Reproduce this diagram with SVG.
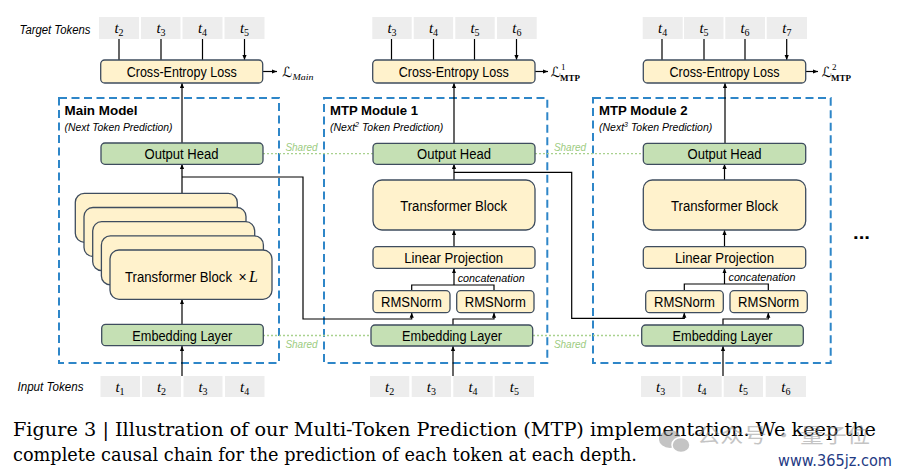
<svg xmlns="http://www.w3.org/2000/svg" width="900" height="476" viewBox="0 0 900 476">
<defs>
<marker id="ah" viewBox="0 0 6 6" refX="6" refY="3" markerWidth="5" markerHeight="5" markerUnits="userSpaceOnUse" orient="auto"><path d="M0,0.5 L6,3 L0,5.5 z" fill="#000"/></marker>
</defs>
<style>
.tok{fill:#EDEDED}
.y{fill:#FFF2CC;stroke:#3E4C5E;stroke-width:1.3}
.g{fill:#C5E0B4;stroke:#3E4C5E;stroke-width:1.3}
.frame{fill:none;stroke:#2E86C8;stroke-width:2;stroke-dasharray:8 4.5}
.c{fill:none;stroke:#000;stroke-width:1.2}
.a{marker-end:url(#ah)}
.sh{fill:none;stroke:#A9D18E;stroke-width:1.3;stroke-dasharray:2 2}
.lbl{font-family:"Liberation Sans",Arial,sans-serif;font-size:14px;fill:#000;text-anchor:middle}
.ttl{font-family:"Liberation Sans",Arial,sans-serif;font-size:13.5px;font-weight:bold;fill:#000}
.sub{font-family:"Liberation Sans",Arial,sans-serif;font-size:10.5px;font-style:italic;fill:#000}
.it{font-family:"Liberation Sans",Arial,sans-serif;font-size:12px;font-style:italic;fill:#000}
.shr{font-family:"Liberation Sans",Arial,sans-serif;font-size:10px;font-style:italic;fill:#9CCB80;text-anchor:middle}
.tk{font-family:"Liberation Serif","DejaVu Serif",serif;font-size:15px;fill:#000;text-anchor:middle}
.tk tspan.t{font-style:italic}
.tk tspan.n{font-size:10px}
.L{font-family:"DejaVu Serif","DejaVu Sans",serif;font-size:14px;font-style:italic;fill:#000}
.ls{font-family:"Liberation Serif","DejaVu Serif",serif;font-size:9px;fill:#000}
.cap{font-family:"DejaVu Serif","Liberation Serif",serif;font-size:18.5px;fill:#000}
</style>
<rect width="900" height="476" fill="#fff"/>

<!-- frames -->
<g id="main-model">
<rect class="frame" x="59" y="98" width="220" height="265"/>
<text class="ttl" x="64.5" y="115" textLength="73" lengthAdjust="spacingAndGlyphs">Main Model</text>
<text class="sub" x="64.5" y="130.5" textLength="108" lengthAdjust="spacingAndGlyphs">(Next Token Prediction)</text>
</g>
<g id="mtp-module-1">
<rect class="frame" x="324" y="98" width="223.3" height="265"/>
<text class="ttl" x="330" y="115" textLength="88" lengthAdjust="spacingAndGlyphs">MTP Module 1</text>
<text class="sub" x="330" y="130.5">(Next<tspan font-size="7" dy="-4">2</tspan><tspan dy="4"> Token Prediction)</tspan></text>
</g>
<g id="mtp-module-2">
<rect class="frame" x="593" y="98" width="237.7" height="265"/>
<text class="ttl" x="599" y="115" textLength="88.5" lengthAdjust="spacingAndGlyphs">MTP Module 2</text>
<text class="sub" x="599" y="130.5">(Next<tspan font-size="7" dy="-4">3</tspan><tspan dy="4"> Token Prediction)</tspan></text>
</g>

<!-- shared lines -->
<g id="shared">
<path class="sh" d="M263,153.7 H373 M535,153.7 H643 M263,335.5 H371 M533,335.5 H642"/>
<text class="shr" x="301.5" y="150.5">Shared</text>
<text class="shr" x="570" y="150.5">Shared</text>
<text class="shr" x="301.5" y="347.5">Shared</text>
<text class="shr" x="570" y="347.5">Shared</text>
</g>

<!-- connectors -->
<g id="connectors">
<path class="c a" d="M119,39 V60 M161,39 V60 M202.5,39 V60 M244.5,39 V60"/>
<path class="c a" d="M263,71.5 H277"/>
<path class="c a" d="M182,143 V83"/>
<path class="c a" d="M182,193.3 V164"/>
<path class="c a" d="M182,324 V299.3"/>
<path class="c a" d="M182,376 V346"/>
<path class="c a" d="M182,177 H303 V319 H411.7 V312.7"/>

<path class="c a" d="M391.5,39 V60 M433.5,39 V60 M474.5,39 V60 M516.5,39 V60"/>
<path class="c a" d="M535,71.5 H548"/>
<path class="c a" d="M454,143 V83"/>
<path class="c a" d="M454,180 V164"/>
<path class="c a" d="M454,246.7 V230"/>
<path class="c" d="M411.7,290.7 V285 H494 V290.7"/>
<path class="c a" d="M454,285 V268.3"/>
<path class="c a" d="M453,325 V319 H494 V312.7"/>
<path class="c a" d="M453,376 V346"/>
<path class="c a" d="M454,172.3 H571.7 V318.3 H684.3 V312.7"/>

<path class="c a" d="M662,39 V60 M704,39 V60 M745,39 V60 M786.7,39 V60"/>
<path class="c a" d="M806,71.5 H818"/>
<path class="c a" d="M725,143 V83"/>
<path class="c a" d="M724.5,180 V164"/>
<path class="c a" d="M724.5,246.7 V230"/>
<path class="c" d="M684.3,290.7 V284 H768.3 V290.7"/>
<path class="c a" d="M724.5,284 V268.3"/>
<path class="c a" d="M723,325 V319 H768.3 V312.7"/>
<path class="c a" d="M723,376 V346"/>
</g>

<!-- labels outside -->
<text class="it" x="19.5" y="33.5" textLength="71" lengthAdjust="spacingAndGlyphs">Target Tokens</text>
<text class="it" x="17.5" y="391" textLength="66" lengthAdjust="spacingAndGlyphs">Input Tokens</text>

<!-- target tokens -->
<g id="target-tokens-main">
<rect class="tok" x="99" y="17" width="40" height="22"/><text class="tk" x="119" y="33"><tspan class="t">t</tspan><tspan class="n" dy="2.5">2</tspan></text>
<rect class="tok" x="141" y="17" width="39.5" height="22"/><text class="tk" x="161" y="33"><tspan class="t">t</tspan><tspan class="n" dy="2.5">3</tspan></text>
<rect class="tok" x="182.5" y="17" width="40" height="22"/><text class="tk" x="202.5" y="33"><tspan class="t">t</tspan><tspan class="n" dy="2.5">4</tspan></text>
<rect class="tok" x="224.5" y="17" width="40" height="22"/><text class="tk" x="244.5" y="33"><tspan class="t">t</tspan><tspan class="n" dy="2.5">5</tspan></text>
</g>
<g id="target-tokens-mtp1">
<rect class="tok" x="372.3" y="17" width="39.4" height="22"/><text class="tk" x="392" y="33"><tspan class="t">t</tspan><tspan class="n" dy="2.5">3</tspan></text>
<rect class="tok" x="413.7" y="17" width="39.4" height="22"/><text class="tk" x="433.5" y="33"><tspan class="t">t</tspan><tspan class="n" dy="2.5">4</tspan></text>
<rect class="tok" x="455.3" y="17" width="39.4" height="22"/><text class="tk" x="475" y="33"><tspan class="t">t</tspan><tspan class="n" dy="2.5">5</tspan></text>
<rect class="tok" x="497" y="17" width="39.7" height="22"/><text class="tk" x="516.8" y="33"><tspan class="t">t</tspan><tspan class="n" dy="2.5">6</tspan></text>
</g>
<g id="target-tokens-mtp2">
<rect class="tok" x="642.7" y="17" width="40" height="22"/><text class="tk" x="662.7" y="33"><tspan class="t">t</tspan><tspan class="n" dy="2.5">4</tspan></text>
<rect class="tok" x="684" y="17" width="39.5" height="22"/><text class="tk" x="704" y="33"><tspan class="t">t</tspan><tspan class="n" dy="2.5">5</tspan></text>
<rect class="tok" x="725.3" y="17" width="39.7" height="22"/><text class="tk" x="745" y="33"><tspan class="t">t</tspan><tspan class="n" dy="2.5">6</tspan></text>
<rect class="tok" x="766.7" y="17" width="40.3" height="22"/><text class="tk" x="786.8" y="33"><tspan class="t">t</tspan><tspan class="n" dy="2.5">7</tspan></text>
</g>

<!-- input tokens -->
<g id="input-tokens-main">
<rect class="tok" x="100.5" y="376" width="39.5" height="21"/><text class="tk" x="120" y="392"><tspan class="t">t</tspan><tspan class="n" dy="2.5">1</tspan></text>
<rect class="tok" x="142" y="376" width="39" height="21"/><text class="tk" x="161.5" y="392"><tspan class="t">t</tspan><tspan class="n" dy="2.5">2</tspan></text>
<rect class="tok" x="183.5" y="376" width="39" height="21"/><text class="tk" x="203" y="392"><tspan class="t">t</tspan><tspan class="n" dy="2.5">3</tspan></text>
<rect class="tok" x="225" y="376" width="39.5" height="21"/><text class="tk" x="244.7" y="392"><tspan class="t">t</tspan><tspan class="n" dy="2.5">4</tspan></text>
</g>
<g id="input-tokens-mtp1">
<rect class="tok" x="370" y="376" width="39.3" height="21"/><text class="tk" x="389.7" y="392"><tspan class="t">t</tspan><tspan class="n" dy="2.5">2</tspan></text>
<rect class="tok" x="411.7" y="376" width="39.3" height="21"/><text class="tk" x="431.3" y="392"><tspan class="t">t</tspan><tspan class="n" dy="2.5">3</tspan></text>
<rect class="tok" x="453.3" y="376" width="39.4" height="21"/><text class="tk" x="473" y="392"><tspan class="t">t</tspan><tspan class="n" dy="2.5">4</tspan></text>
<rect class="tok" x="494.7" y="376" width="39.3" height="21"/><text class="tk" x="514.3" y="392"><tspan class="t">t</tspan><tspan class="n" dy="2.5">5</tspan></text>
</g>
<g id="input-tokens-mtp2">
<rect class="tok" x="641" y="376" width="39.3" height="21"/><text class="tk" x="660.7" y="392"><tspan class="t">t</tspan><tspan class="n" dy="2.5">3</tspan></text>
<rect class="tok" x="682.3" y="376" width="39.4" height="21"/><text class="tk" x="702" y="392"><tspan class="t">t</tspan><tspan class="n" dy="2.5">4</tspan></text>
<rect class="tok" x="723.7" y="376" width="39.3" height="21"/><text class="tk" x="743.3" y="392"><tspan class="t">t</tspan><tspan class="n" dy="2.5">5</tspan></text>
<rect class="tok" x="765.7" y="376" width="40.3" height="21"/><text class="tk" x="785.8" y="392"><tspan class="t">t</tspan><tspan class="n" dy="2.5">6</tspan></text>
</g>

<!-- main model nodes -->
<g id="loss-main"><rect class="y" x="100.7" y="60" width="162" height="23" rx="4"/><text class="lbl" x="181.7" y="76.5" textLength="110" lengthAdjust="spacingAndGlyphs">Cross-Entropy Loss</text></g>
<g id="loss-main-label"><text class="L" x="282" y="77">ℒ</text><text class="ls" x="292.5" y="80" font-style="italic" textLength="21" lengthAdjust="spacingAndGlyphs">Main</text></g>
<g id="output-head-main"><rect class="g" x="101" y="143" width="162" height="21.3" rx="4"/><text class="lbl" x="181.5" y="159" textLength="74" lengthAdjust="spacingAndGlyphs">Output Head</text></g>
<g id="transformer-stack-main">
<rect class="y" x="75.3" y="193.3" width="162" height="49" rx="9"/>
<rect class="y" x="84" y="207.5" width="162" height="49" rx="9"/>
<rect class="y" x="92.7" y="221.7" width="162" height="49" rx="9"/>
<rect class="y" x="101.4" y="235.9" width="162" height="49" rx="9"/>
<rect class="y" x="110" y="250" width="162" height="49.3" rx="9"/>
<text class="lbl" x="125" y="281.5" text-anchor="start" style="text-anchor:start" textLength="107" lengthAdjust="spacingAndGlyphs">Transformer Block</text>
<text class="lbl" x="242.5" y="281.5">×</text>
<text x="253.5" y="282" font-family="Liberation Serif,serif" font-style="italic" font-size="16" text-anchor="middle">L</text>
</g>
<g id="embedding-main"><rect class="g" x="101.7" y="324.3" width="161.6" height="21.4" rx="4"/><text class="lbl" x="182.3" y="340.8" textLength="100" lengthAdjust="spacingAndGlyphs">Embedding Layer</text></g>

<!-- MTP1 nodes -->
<g id="loss-mtp1"><rect class="y" x="372.7" y="60" width="162.3" height="23" rx="4"/><text class="lbl" x="453.8" y="76.5" textLength="110" lengthAdjust="spacingAndGlyphs">Cross-Entropy Loss</text></g>
<g id="loss-mtp1-label"><text class="L" x="550.5" y="77">ℒ</text><text class="ls" x="561" y="70" font-size="8">1</text><text class="ls" x="560" y="80.5" font-weight="bold" textLength="20" lengthAdjust="spacingAndGlyphs">MTP</text></g>
<g id="output-head-mtp1"><rect class="g" x="373" y="143.3" width="162" height="21" rx="4"/><text class="lbl" x="454" y="159" textLength="74" lengthAdjust="spacingAndGlyphs">Output Head</text></g>
<g id="transformer-mtp1"><rect class="y" x="373" y="180" width="162" height="50" rx="9"/><text class="lbl" x="453.7" y="210.5" textLength="107" lengthAdjust="spacingAndGlyphs">Transformer Block</text></g>
<g id="linear-mtp1"><rect class="y" x="373" y="246.7" width="162" height="21.6" rx="4"/><text class="lbl" x="453.7" y="263" textLength="99" lengthAdjust="spacingAndGlyphs">Linear Projection</text></g>
<text class="sub" x="457.7" y="281.5" textLength="67" lengthAdjust="spacingAndGlyphs">concatenation</text>
<g id="rmsnorm-mtp1-a"><rect class="y" x="373" y="290.7" width="77" height="22" rx="4"/><text class="lbl" x="411.5" y="307" textLength="61" lengthAdjust="spacingAndGlyphs">RMSNorm</text></g>
<g id="rmsnorm-mtp1-b"><rect class="y" x="456.7" y="290.7" width="77.3" height="22" rx="4"/><text class="lbl" x="495.3" y="307" textLength="61" lengthAdjust="spacingAndGlyphs">RMSNorm</text></g>
<g id="embedding-mtp1"><rect class="g" x="371" y="325" width="161.7" height="21" rx="4"/><text class="lbl" x="452" y="341" textLength="100" lengthAdjust="spacingAndGlyphs">Embedding Layer</text></g>

<!-- MTP2 nodes -->
<g id="loss-mtp2"><rect class="y" x="643.3" y="60" width="162.4" height="23" rx="4"/><text class="lbl" x="724.5" y="76.5" textLength="110" lengthAdjust="spacingAndGlyphs">Cross-Entropy Loss</text></g>
<g id="loss-mtp2-label"><text class="L" x="821.5" y="77">ℒ</text><text class="ls" x="832" y="70" font-size="8">2</text><text class="ls" x="831" y="80.5" font-weight="bold" textLength="20" lengthAdjust="spacingAndGlyphs">MTP</text></g>
<g id="output-head-mtp2"><rect class="g" x="643.3" y="143.3" width="162.4" height="21" rx="4"/><text class="lbl" x="724.5" y="159" textLength="74" lengthAdjust="spacingAndGlyphs">Output Head</text></g>
<g id="transformer-mtp2"><rect class="y" x="643.3" y="180" width="162.4" height="50" rx="9"/><text class="lbl" x="724.5" y="210.5" textLength="107" lengthAdjust="spacingAndGlyphs">Transformer Block</text></g>
<g id="linear-mtp2"><rect class="y" x="643.3" y="246.7" width="162.4" height="21.6" rx="4"/><text class="lbl" x="724.5" y="263" textLength="99" lengthAdjust="spacingAndGlyphs">Linear Projection</text></g>
<text class="sub" x="728.5" y="281" textLength="67" lengthAdjust="spacingAndGlyphs">concatenation</text>
<g id="rmsnorm-mtp2-a"><rect class="y" x="645.7" y="290.7" width="77.6" height="22" rx="4"/><text class="lbl" x="684.5" y="307" textLength="61" lengthAdjust="spacingAndGlyphs">RMSNorm</text></g>
<g id="rmsnorm-mtp2-b"><rect class="y" x="730" y="290.7" width="77.3" height="22" rx="4"/><text class="lbl" x="768.6" y="307" textLength="61" lengthAdjust="spacingAndGlyphs">RMSNorm</text></g>
<g id="embedding-mtp2"><rect class="g" x="641.7" y="325" width="161.6" height="21" rx="4"/><text class="lbl" x="722.5" y="341" textLength="100" lengthAdjust="spacingAndGlyphs">Embedding Layer</text></g>

<text x="853" y="239" font-family="Liberation Sans,Arial,sans-serif" font-size="18" font-weight="bold" textLength="17" lengthAdjust="spacingAndGlyphs">...</text>

<!-- caption -->
<text class="cap" x="13" y="436" textLength="863" lengthAdjust="spacingAndGlyphs">Figure 3 | Illustration of our Multi-Token Prediction (MTP) implementation.  We keep the</text>
<text class="cap" x="13" y="461" textLength="624" lengthAdjust="spacingAndGlyphs">complete causal chain for the prediction of each token at each depth.</text>

<!-- watermark -->
<g id="watermark" opacity="0.5">
<ellipse cx="670" cy="439" rx="11" ry="9" fill="#8a8a8a"/>
<ellipse cx="681" cy="445" rx="9" ry="7.5" fill="#8a8a8a" stroke="#fff" stroke-width="1.5"/>
<text x="697" y="443" font-family="Noto Sans CJK SC,sans-serif" font-size="20" fill="#8a8a8a" textLength="173" lengthAdjust="spacingAndGlyphs">公众号 · 量子位</text>
</g>
<text x="778" y="466" font-family="DejaVu Sans,sans-serif" font-size="15" fill="#1F3A84" textLength="114" lengthAdjust="spacingAndGlyphs">www.365jz.com</text>
</svg>
